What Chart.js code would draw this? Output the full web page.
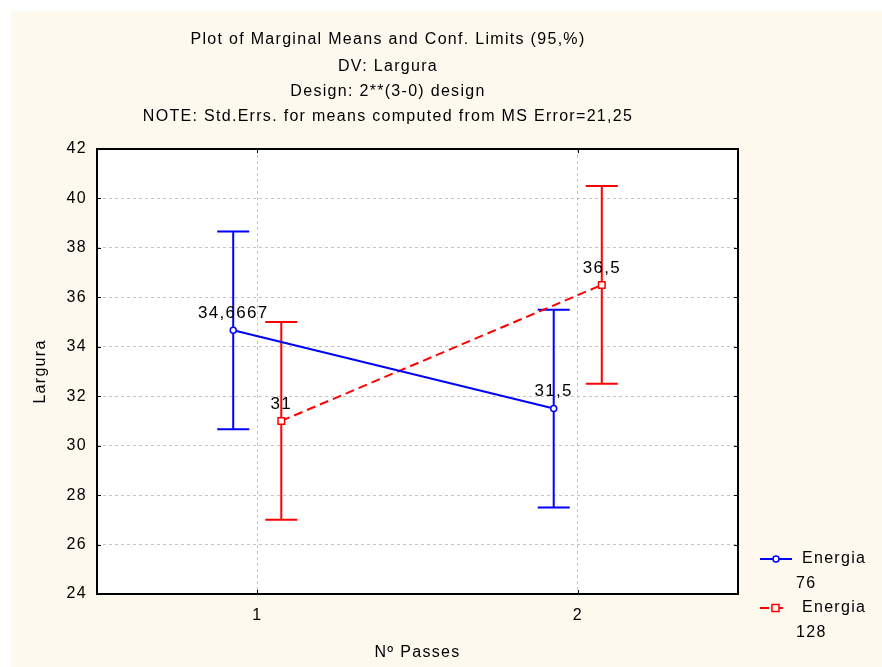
<!DOCTYPE html>
<html lang="pt">
<head>
<meta charset="UTF-8">
<title>Marginal Means - Largura</title>
<script src="https://cdn.jsdelivr.net/npm/chart.js"></script>
<style>
  html, body { margin: 0; padding: 0; background: #ffffff; }
  #wrap { width: 882px; height: 667px; }
</style>
</head>
<body>
<div id="wrap"><canvas id="chart" width="882" height="667"></canvas></div>
<script>
// Nº Passes levels and marginal means with 95% limits, per Energia level
const passes = [1, 2];
const mean76 = [34.6667, 31.5];
const low76 = [30.6667, 27.5];
const high76 = [38.6667, 35.5];
const mean128 = [31, 36.5];
const low128 = [27, 32.5];
const high128 = [35, 40.5];
const yTicks = [24, 26, 28, 30, 32, 34, 36, 38, 40, 42];

const titleLines = [
  'Plot of Marginal Means and Conf. Limits (95,%)',
  'DV: Largura',
  'Design: 2**(3-0) design',
  'NOTE: Std.Errs. for means computed from MS Error=21,25'
];
const legendItems = [
  { name: 'Energia', level: '76' },
  { name: 'Energia', level: '128' }
];

const FONT = '"Liberation Sans", Arial, sans-serif';
const BLUE = '#0000ff';
const RED = '#ff0000';
const SHIFT = 0.075; // side-by-side offset of the two groups

function pts(means, shift) {
  return passes.map((p, i) => ({ x: p + shift, y: means[i] }));
}
function fmt(v) {
  return String(v).replace('.', ',');
}

const statPlot = {
  id: 'statPlot',
  beforeDraw(chart) {
    const { ctx, chartArea: a } = chart;
    // wide-set lettering for every text drawn afterwards
    ctx.letterSpacing = '1.3px';
    ctx.save();
    ctx.fillStyle = '#fdf9ef';
    ctx.fillRect(11, 11, chart.width - 11, chart.height - 11);
    ctx.fillStyle = '#ffffff';
    ctx.fillRect(a.left, a.top, a.right - a.left, a.bottom - a.top);
    ctx.restore();
  },
  beforeDatasetsDraw(chart) {
    const { ctx, scales: { x, y } } = chart;
    ctx.save();
    ctx.lineWidth = 2;
    chart.data.datasets.forEach((ds) => {
      ctx.strokeStyle = ds.borderColor;
      ds.data.forEach((p, i) => {
        const px = x.getPixelForValue(p.x);
        const yl = y.getPixelForValue(ds.low[i]);
        const yh = y.getPixelForValue(ds.high[i]);
        ctx.beginPath();
        ctx.moveTo(px, yl); ctx.lineTo(px, yh);
        ctx.moveTo(px - 16, yl); ctx.lineTo(px + 16, yl);
        ctx.moveTo(px - 16, yh); ctx.lineTo(px + 16, yh);
        ctx.stroke();
      });
    });
    ctx.restore();
  },
  afterDatasetsDraw(chart) {
    const { ctx, chartArea: a, scales: { x, y } } = chart;
    ctx.save();

    // frame and inward ticks
    ctx.strokeStyle = '#000';
    ctx.lineWidth = 2;
    ctx.strokeRect(a.left, a.top, a.right - a.left, a.bottom - a.top);
    ctx.lineWidth = 1;
    ctx.beginPath();
    yTicks.forEach((t) => {
      const py = Math.round(y.getPixelForValue(t)) + 0.5;
      ctx.moveTo(a.left, py); ctx.lineTo(a.left + 4, py);
      ctx.moveTo(a.right, py); ctx.lineTo(a.right - 4, py);
    });
    passes.forEach((t) => {
      const px = Math.round(x.getPixelForValue(t)) + 0.5;
      ctx.moveTo(px, a.bottom); ctx.lineTo(px, a.bottom - 4);
      ctx.moveTo(px, a.top); ctx.lineTo(px, a.top + 4);
    });
    ctx.stroke();

    // value labels above each mean
    ctx.fillStyle = '#000';
    ctx.font = '17px ' + FONT;
    ctx.textAlign = 'center';
    ctx.textBaseline = 'middle';
    chart.data.datasets.forEach((ds) => {
      ds.data.forEach((p) => {
        ctx.fillText(fmt(p.y), x.getPixelForValue(p.x), y.getPixelForValue(p.y) - 17);
      });
    });

    // title block
    ctx.font = '16px ' + FONT;
    const ty = [40, 67, 92, 117];
    titleLines.forEach((line, i) => ctx.fillText(line, 388, ty[i]));

    // legend
    ctx.textAlign = 'left';
    chart.data.datasets.forEach((ds, i) => {
      const ly = 559 + i * 49;
      ctx.strokeStyle = ds.borderColor;
      ctx.lineWidth = 2;
      ctx.setLineDash(ds.borderDash || []);
      ctx.beginPath();
      ctx.moveTo(760, ly); ctx.lineTo(i === 0 ? 792 : 788, ly);
      ctx.stroke();
      ctx.setLineDash([]);
      ctx.fillStyle = '#fff';
      ctx.lineWidth = 1.5;
      ctx.beginPath();
      if (ds.pointStyle === 'rect') {
        ctx.rect(772, ly - 3.5, 7, 7);
      } else {
        ctx.arc(776, ly, 3, 0, Math.PI * 2);
      }
      ctx.fill();
      ctx.stroke();
      ctx.fillStyle = '#000';
      ctx.font = '16px ' + FONT;
      ctx.fillText(legendItems[i].name, 802, ly);
      ctx.fillText(legendItems[i].level, 796, ly + 25);
    });
    ctx.restore();
  }
};

new Chart(document.getElementById('chart'), {
  type: 'scatter',
  data: {
    datasets: [
      {
        label: 'Energia 76',
        data: pts(mean76, -SHIFT),
        low: low76,
        high: high76,
        showLine: true,
        borderColor: BLUE,
        backgroundColor: '#ffffff',
        borderWidth: 2,
        pointStyle: 'circle',
        pointRadius: 3,
        pointBorderWidth: 1.5,
        pointHoverRadius: 3
      },
      {
        label: 'Energia 128',
        data: pts(mean128, SHIFT),
        low: low128,
        high: high128,
        showLine: true,
        borderColor: RED,
        backgroundColor: '#ffffff',
        borderWidth: 2,
        borderDash: [9, 5],
        pointStyle: 'rect',
        pointRadius: 4.6,
        pointBorderWidth: 1.5,
        pointHoverRadius: 4.6
      }
    ]
  },
  options: {
    responsive: false,
    animation: false,
    events: [],
    layout: { padding: { left: 0, top: 149, right: 144, bottom: 0 } },
    plugins: {
      legend: { display: false },
      tooltip: { enabled: false }
    },
    scales: {
      x: {
        type: 'linear',
        min: 0.5,
        max: 2.5,
        afterBuildTicks: (s) => { s.ticks = passes.map((v) => ({ value: v })); },
        afterFit: (s) => { s.height = 73; },
        ticks: { color: '#000', font: { size: 16, family: FONT }, padding: 12 },
        grid: { color: '#c4c4c4', lineWidth: 1, drawTicks: false },
        border: { display: false, dash: [3, 3] },
        title: {
          display: true,
          text: 'Nº Passes',
          color: '#000',
          font: { size: 16, family: FONT },
          padding: { top: 0, bottom: 5 }
        }
      },
      y: {
        min: 24,
        max: 42,
        afterBuildTicks: (s) => { s.ticks = yTicks.map((v) => ({ value: v })); },
        afterFit: (s) => { s.width = 97; },
        ticks: { color: '#000', font: { size: 16, family: FONT }, padding: 10 },
        grid: { color: '#c4c4c4', lineWidth: 1, drawTicks: false },
        border: { display: false, dash: [3, 3] },
        title: {
          display: true,
          text: 'Largura',
          color: '#000',
          font: { size: 16, family: FONT },
          padding: { top: 31, bottom: 0 }
        }
      }
    }
  },
  plugins: [statPlot]
});
</script>
</body>
</html>
